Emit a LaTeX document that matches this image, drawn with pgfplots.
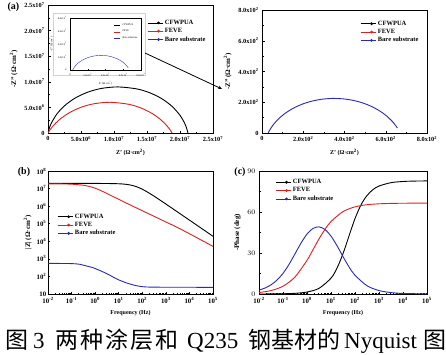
\documentclass[border=0pt]{standalone}
\usepackage{fontspec}
\setmainfont{Liberation Serif}
\newfontfamily\cjk{Noto Sans CJK SC}
\usepackage{pgfplots}
\pgfplotsset{compat=1.18}
\usepackage{pgfplotstable}
\usetikzlibrary{arrows.meta}

\definecolor{cred}{RGB}{228,30,30}
\definecolor{cblue}{RGB}{40,40,185}

\newcommand{\tlfont}{\fontsize{6.3}{7}\selectfont\bfseries}
\newcommand{\tlbfont}{\fontsize{6.8}{8}\selectfont\bfseries}
\newcommand{\lbfont}{\fontsize{6}{7}\selectfont\bfseries}
\newcommand{\ylfont}{\fontsize{7}{8}\selectfont\bfseries}
\newcommand{\lgfont}{\fontsize{6.5}{7}\selectfont\bfseries}

% ---------- Nyquist data ----------
\pgfplotstableread{
x y
0.0 0.0
0.170e6 0.828e6
0.479e6 1.856e6
1.395e6 3.795e6
2.679e6 5.514e6
4.278e6 6.943e6
6.130e6 8.026e6
8.159e6 8.719e6
10.600e6 9.000e6
13.473e6 8.609e6
15.473e6 7.831e6
17.277e6 6.673e6
18.816e6 5.178e6
20.027e6 3.408e6
20.691e6 1.941e6
21.008e6 0.916e6
21.200e6 0.0
}\nyqC
\pgfplotstableread{
x y
0.0 0.0
0.264e6 0.529e6
0.798e6 1.416e6
1.758e6 2.637e6
3.301e6 4.015e6
5.087e6 5.060e6
7.046e6 5.729e6
9.400e6 6.000e6
12.172e6 5.622e6
14.101e6 4.873e6
15.842e6 3.755e6
16.983e6 2.701e6
17.953e6 1.488e6
18.494e6 0.605e6
18.800e6 0.0
}\nyqF
\pgfplotstableread{
x y
30.00 0.04
30.08 0.22
30.20 0.55
30.49 1.35
31.21 3.31
33.02 8.07
34.81 12.57
37.72 19.53
42.53 30.18
50.64 46.21
64.56 69.73
88.69 102.50
106.61 122.36
129.80 144.01
159.25 166.38
195.69 187.89
239.01 206.29
288.23 219.25
340.99 224.79
394.35 222.00
445.00 211.37
490.46 194.55
529.30 173.80
561.00 151.52
586.20 129.47
605.80 108.93
632.30 74.55
647.50 49.58
656.40 32.44
}\nyqB

% ---------- Bode data ----------
\pgfplotstableread{
f z p
0.01 1.969e7 0.02
0.0316 1.969e7 0.06
0.1 1.969e7 0.18
0.316 1.968e7 0.50
1 1.962e7 1.45
3.16 1.946e7 4.15
10 1.879e7 11.63
17.78 1.781e7 18.95
31.62 1.591e7 29.50
56.23 1.284e7 42.47
100 9.197e6 55.19
177.8 5.989e6 65.23
316.2 3.696e6 72.07
562.3 2.223e6 76.37
1000 1.322e6 79.00
3162 4.618e5 81.47
10000 1.604e5 82.34
31623 5.570e4 82.64
100000 1.931e4 82.75
}\bodeC
\pgfplotstableread{
f z
0.01 1.862e7
0.0316 1.841e7
0.1 1.778e7
0.316 1.549e7
0.562 1.318e7
1 1.047e7
1.778 7.586e6
3.162 5.248e6
5.623 3.548e6
10 2.455e6
31.62 1.148e6
100 5.495e5
316.2 2.630e5
1000 1.259e5
3162 6.026e4
10000 2.692e4
31623 1.175e4
100000 5.129e3
}\bodeFz
\pgfplotstableread{
f p
0.01 1.08
0.0316 2.51
0.1 5.71
0.316 12.48
1 24.65
1.778 32.42
3.162 40.29
5.623 47.34
10 53.03
31.62 60.30
100 63.78
316.2 65.33
1000 66.00
3162 66.29
10000 66.42
31623 66.48
100000 66.50
}\bodeFp
\pgfplotstableread{
f z
0.01 550
0.0316 548
0.1 538
0.224 490
0.5 372
0.81 316
3.0 148
8.1 72.4
21.4 42.7
57.5 29.5
151 25.1
1000 24.3
100000 24.0
}\bodeBz
\pgfplotstableread{
f p
0.01 2.83
0.01778 4.38
0.0316 6.72
0.0562 10.19
0.1 15.11
0.178 21.64
0.316 29.38
0.562 37.26
1 43.84
1.778 47.97
3.162 49.13
5.623 47.20
10 42.38
17.78 35.36
31.62 27.37
56.23 19.86
100 13.73
316.2 6.05
1000 2.53
3162 1.04
10000 0.43
100000 0.07
}\bodeBp

\pgfplotsset{
  base/.style={scale only axis, anchor=south west,
    axis line style={line width=0.7pt},
    tick align=inside, tick pos=left,
    major tick length=2.5pt, minor tick length=1.5pt,
    every tick/.style={black, line width=0.5pt},
    tick label style={font=\tlfont},
    label style={font=\lbfont},
    ylabel style={font=\ylfont},
    legend style={draw=none, fill=none, font=\lgfont, row sep=-1.5pt, inner sep=0pt,
      cells={anchor=west}},
    legend cell align=left,
    legend image code/.code={\draw[##1,line width=0.7pt] (0pt,0pt)--(15pt,0pt);
      \fill[##1] (11pt,0pt) circle (0.9pt);},
  },
}
\tikzset{
  cfw/.style={black, line width=0.9pt, smooth},
  fev/.style={cred, line width=0.9pt, smooth},
  bar/.style={cblue, line width=0.9pt, smooth},
}

\begin{document}
\begin{tikzpicture}
\useasboundingbox (0,0) rectangle (446pt,354pt);

% ===== (a) main Nyquist =====
\begin{axis}[base, at={(48pt,221pt)}, width=165pt, height=128pt,
  xmin=0, xmax=2.5e7, ymin=0, ymax=2.5e7, scaled ticks=false,
  xtick={0,5e6,1e7,1.5e7,2e7,2.5e7},
  xticklabels={0,5.0x10\textsuperscript{6},1.0x10\textsuperscript{7},1.5x10\textsuperscript{7},2.0x10\textsuperscript{7},2.5x10\textsuperscript{7}},
  ytick={0,5e6,1e7,1.5e7,2e7,2.5e7},
  yticklabels={0,5.0x10\textsuperscript{6},1.0x10\textsuperscript{7},1.5x10\textsuperscript{7},2.0x10\textsuperscript{7},2.5x10\textsuperscript{7}},
  minor x tick num=1, minor y tick num=1,
  xlabel={Z' (Ω·cm\textsuperscript{2})}, ylabel={-Z'' (Ω·cm\textsuperscript{2})},
  legend style={at={(0.6,0.9)}, anchor=north west},
]
\addplot[cfw] table[x=x,y=y]{\nyqC}; \addlegendentry{CFWPUA}
\addplot[fev] table[x=x,y=y]{\nyqF}; \addlegendentry{FEVE}
\addplot[bar] table[x=x,y=y]{\nyqB}; \addlegendentry{Bare substrate}
\end{axis}

% inset frame
\draw[gray!35, line width=0.3pt] (53pt,279pt) rectangle (145pt,341pt);
% ===== inset =====
\begin{axis}[base, at={(70pt,284pt)}, width=71pt, height=52pt,
  xmin=0, xmax=800, ymin=0, ymax=800,
  axis line style={line width=0.35pt},
  every tick/.style={black, line width=0.3pt}, major tick length=1pt,
  xtick={0,200,400,600,800}, ytick={0,200,400,600,800},
  xticklabels={0,2.0x10\textsuperscript{2},4.0x10\textsuperscript{2},6.0x10\textsuperscript{2},8.0x10\textsuperscript{2}},
  yticklabels={0,2.0x10\textsuperscript{2},4.0x10\textsuperscript{2},6.0x10\textsuperscript{2},8.0x10\textsuperscript{2}},
  tick label style={font=\fontsize{2.6}{3}\selectfont},
  label style={font=\fontsize{2.8}{3}\selectfont},
  ylabel style={font=\fontsize{2.8}{3}\selectfont},
  xlabel={Z' (Ω·cm\textsuperscript{2})}, ylabel={-Z'' (Ω·cm\textsuperscript{2})},
  xlabel style={yshift=2pt}, ylabel style={yshift=-2pt},
  legend style={at={(0.62,0.93)}, anchor=north west, font=\fontsize{2.6}{3}\selectfont, row sep=-1pt},
  legend image code/.code={\draw[#1,line width=0.3pt] (0pt,0pt)--(6pt,0pt);},
]
\addlegendimage{black}\addlegendentry{CFWPUA}
\addlegendimage{cred}\addlegendentry{FEVE}
\addplot[cblue, line width=0.4pt, smooth] table[x=x,y=y]{\nyqB}; \addlegendentry{Bare substrate}
\end{axis}

\draw[line width=0.8pt, -{Stealth[length=4pt,width=3.5pt]}] (145pt,301pt) -- (222pt,265pt);

% ===== (a) right Nyquist zoom =====
\begin{axis}[base, at={(262pt,221pt)}, width=165pt, height=123pt,
  xmin=0, xmax=800, ymin=0, ymax=800,
  xtick={0,200,400,600,800}, ytick={0,200,400,600,800},
  xticklabels={0,2.0x10\textsuperscript{2},4.0x10\textsuperscript{2},6.0x10\textsuperscript{2},8.0x10\textsuperscript{2}},
  yticklabels={0,2.0x10\textsuperscript{2},4.0x10\textsuperscript{2},6.0x10\textsuperscript{2},8.0x10\textsuperscript{2}},
  minor x tick num=1, minor y tick num=1,
  xlabel={Z' (Ω·cm\textsuperscript{2})}, ylabel={-Z'' (Ω·cm\textsuperscript{2})},
  legend style={at={(0.594,0.93)}, anchor=north west},
]
\addlegendimage{cfw}\addlegendentry{CFWPUA}
\addlegendimage{fev}\addlegendentry{FEVE}
\addplot[bar] table[x=x,y=y]{\nyqB}; \addlegendentry{Bare substrate}
\end{axis}

% ===== (b) Bode |Z| =====
\begin{axis}[base, at={(48pt,60pt)}, width=165pt, height=123pt,
  tick label style={font=\tlbfont},
  yticklabel style={inner xsep=1.5pt},
  xmode=log, xmin=0.01, xmax=1e5,
  xtick={0.01,0.1,1,10,100,1000,10000,100000},
  xticklabels={10\textsuperscript{-2},10\textsuperscript{-1},10\textsuperscript{0},10\textsuperscript{1},10\textsuperscript{2},10\textsuperscript{3},10\textsuperscript{4},10\textsuperscript{5}},
  xlabel={Frequency (Hz)},
  ymode=log, ymin=10, ymax=1e8,
  ytick={10,100,1000,10000,100000,1e6,1e7,1e8},
  yticklabels={10,10\textsuperscript{2},10\textsuperscript{3},10\textsuperscript{4},10\textsuperscript{5},10\textsuperscript{6},10\textsuperscript{7},10\textsuperscript{8}},
  ylabel={|Z| (Ω·cm\textsuperscript{2})},
  legend style={at={(0.055,0.67)}, anchor=north west},
]
\addplot[cfw] table[x=f,y=z]{\bodeC}; \addlegendentry{CFWPUA}
\addplot[fev] table[x=f,y=z]{\bodeFz}; \addlegendentry{FEVE}
\addplot[bar] table[x=f,y=z]{\bodeBz}; \addlegendentry{Bare substrate}
\end{axis}

% ===== (c) Bode phase =====
\begin{axis}[base, at={(259pt,60pt)}, width=168pt, height=123pt,
  tick label style={font=\tlbfont},
  xmode=log, xmin=0.01, xmax=1e5,
  xtick={0.01,0.1,1,10,100,1000,10000,100000},
  xticklabels={10\textsuperscript{-2},10\textsuperscript{-1},10\textsuperscript{0},10\textsuperscript{1},10\textsuperscript{2},10\textsuperscript{3},10\textsuperscript{4},10\textsuperscript{5}},
  xlabel={Frequency (Hz)},
  ymin=0, ymax=90, ytick={0,30,60,90}, minor y tick num=1,
  ylabel={-Phase (deg)},
  legend style={at={(0.095,0.95)}, anchor=north west},
]
\addplot[cfw] table[x=f,y=p]{\bodeC}; \addlegendentry{CFWPUA}
\addplot[fev] table[x=f,y=p]{\bodeFp}; \addlegendentry{FEVE}
\addplot[bar] table[x=f,y=p]{\bodeBp}; \addlegendentry{Bare substrate}
\end{axis}

% panel labels
\node[font=\fontsize{10}{10}\selectfont\bfseries] at (13.5pt,346.5pt) {(a)};
\node[font=\fontsize{10}{10}\selectfont\bfseries] at (24pt,181.5pt) {(b)};
\node[font=\fontsize{10}{10}\selectfont\bfseries] at (240pt,181.5pt) {(c)};

% caption
\begin{scope}[every node/.style={anchor=base west, inner sep=0pt, font=\fontsize{23}{23}\selectfont}]
\node at (5pt,6pt) {\cjk 图};
\node at (33pt,6pt) {3};
\node at (55pt,6pt) {\cjk 两};
\node at (80pt,6pt) {\cjk 种};
\node at (105pt,6pt) {\cjk 涂};
\node at (130pt,6pt) {\cjk 层};
\node at (155pt,6pt) {\cjk 和};
\node at (187pt,6pt) {Q235};
\node at (248pt,6pt) {\cjk 钢};
\node at (271pt,6pt) {\cjk 基};
\node at (294pt,6pt) {\cjk 材};
\node at (317pt,6pt) {\cjk 的};
\node at (344pt,6pt) {Nyquist};
\node at (423pt,6pt) {\cjk 图};
\end{scope}
\end{tikzpicture}
\end{document}
